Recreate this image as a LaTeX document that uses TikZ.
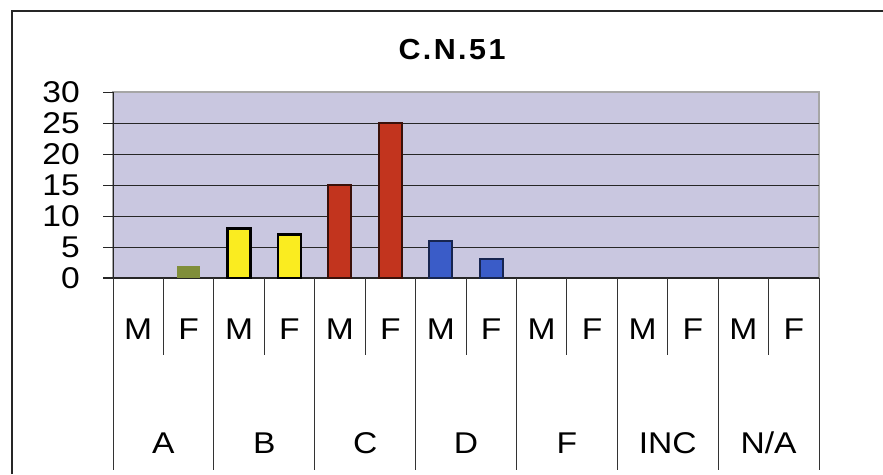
\documentclass[tikz,border=0pt]{standalone}
\usepackage{fontspec}
\setmainfont{Liberation Sans}

\definecolor{plotbg}{RGB}{201,199,224}
\definecolor{gradeA}{RGB}{128,142,58}
\definecolor{gradeB}{RGB}{250,236,32}
\definecolor{gradeC}{RGB}{194,52,30}
\definecolor{gradeD}{RGB}{58,92,200}

\begin{document}
\begin{tikzpicture}[x=1pt, y=-1pt,
    lbl/.style={font=\fontsize{30}{30}\selectfont, inner sep=0pt, xscale=1.12},
    gridline/.style={line width=1pt, black!85},
    colline/.style={line width=0.9pt, black!80},
    bar/.style={line width=2pt},
    barA/.style={fill=gradeA, draw=none},
    barB/.style={fill=gradeB, draw=black, line width=2.6pt},
    barC/.style={fill=gradeC, draw=black!70!gradeC},
    barD/.style={fill=gradeD, draw=black!60!gradeD},
  ]
  \useasboundingbox (0,0) rectangle (883,474);
  % outer frame (left and top only)
  \draw[line width=2pt, black!85] (12,474) -- (12,11) -- (883,11);
  \node[font=\bfseries\fontsize{29}{29}\selectfont\addfontfeature{LetterSpace=8}, inner sep=0pt, xscale=1.05] (title) at (452,50) {C.N.51};
  % plot area
  \fill[plotbg] (113,92) rectangle (819,278);
  \draw[line width=1.2pt, black!35] (113,92) rectangle (819,278);
  \foreach \v in {5,10,...,25}
    \draw[gridline] (103,{278-6.2*\v}) -- (819,{278-6.2*\v});
  \draw[gridline] (103,92) -- (113,92);
  \draw[gridline] (113,92) -- (113,278);
  \draw[gridline, line width=1.4pt] (103,278) -- (819,278);
  \foreach \v in {0,5,...,30}
    \node[lbl, anchor=east] (tick\v) at (80,{278-6.2*\v}) {\v};
  % bars: column/value/style
  \foreach \i/\v/\s in {1/2/barA, 2/8/barB, 3/7/barB, 4/15/barC, 5/25/barC, 6/6/barD, 7/3/barD}
    \draw[bar, \s] ({113+50.43*(\i+0.5)-11.5},278) rectangle ({113+50.43*(\i+0.5)+11.5},{278-6.2*\v});
  % category table
  \foreach \k in {0,...,7}
    \draw[colline] ({113+100.86*\k},278) -- ({113+100.86*\k},470);
  \foreach \k in {0,...,6}
    \draw[colline] ({163.43+100.86*\k},278) -- ({163.43+100.86*\k},355);
  \foreach \t [count=\k from 0] in {A,B,C,D,F,INC,N/A} {
    \node[lbl] (m\k) at ({138.2+100.86*\k},329) {M};
    \node[lbl] (f\k) at ({188.6+100.86*\k},329) {F};
    \node[lbl] (cat\k) at ({163.43+100.86*\k},443) {\t};
  }
\end{tikzpicture}
\end{document}
